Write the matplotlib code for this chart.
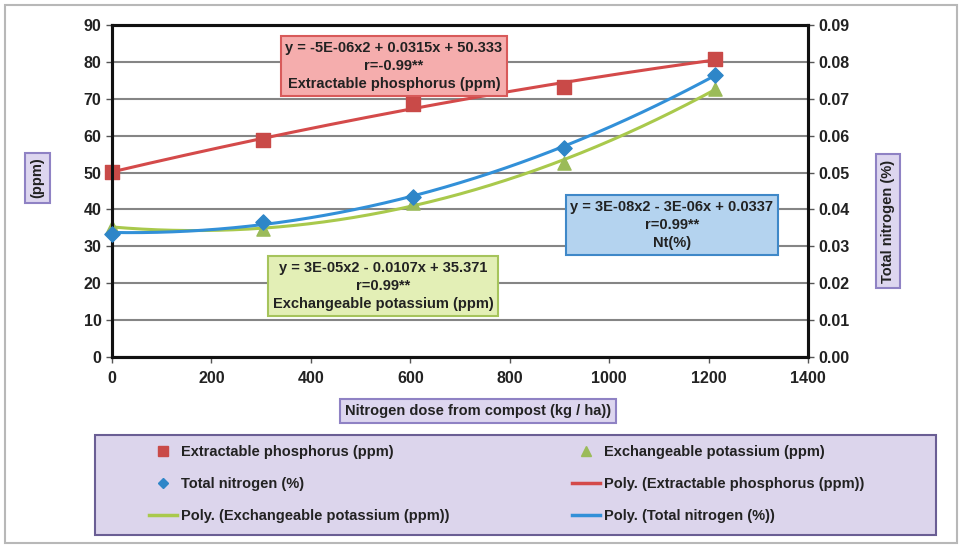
import numpy as np
import matplotlib
matplotlib.use("Agg")
import matplotlib.pyplot as plt
from matplotlib.patches import Rectangle
from matplotlib.lines import Line2D
from matplotlib.ticker import FormatStrFormatter

# ---------------- data ----------------
dose = [0, 303, 606, 909, 1212]
phosphorus = [50.2, 58.8, 68.6, 73.2, 80.9]
potassium = [35.2, 34.8, 41.7, 52.7, 72.7]
nitrogen = [0.0334, 0.0367, 0.0434, 0.0567, 0.0765]

left_ticks = [0, 10, 20, 30, 40, 50, 60, 70, 80, 90]
right_ticks = [0.00, 0.01, 0.02, 0.03, 0.04, 0.05, 0.06, 0.07, 0.08, 0.09]
x_ticks = [0, 200, 400, 600, 800, 1000, 1200, 1400]

eq_p = "y = -5E-06x2 + 0.0315x + 50.333\nr=-0.99**\nExtractable phosphorus (ppm)"
eq_k = "y = 3E-05x2 - 0.0107x + 35.371\nr=0.99**\nExchangeable potassium (ppm)"
eq_n = "y = 3E-08x2 - 3E-06x + 0.0337\nr=0.99**\nNt(%)"

lab_p = "Extractable phosphorus (ppm)"
lab_k = "Exchangeable potassium (ppm)"
lab_n = "Total nitrogen (%)"
lab_pp = "Poly. (Extractable phosphorus (ppm))"
lab_pk = "Poly. (Exchangeable potassium (ppm))"
lab_pn = "Poly. (Total nitrogen (%))"

# ---------------- style ----------------
plt.rcParams['font.family'] = ['Liberation Sans', 'DejaVu Sans']

c_red = '#c94a48'
c_red_line = '#d44a4a'
c_green = '#9bbb59'
c_green_line = '#a9c94c'
c_blue = '#2e86c8'
c_blue_line = '#3290d8'

W, H = 964, 547
fig = plt.figure(figsize=(W / 100, H / 100), dpi=100)

def fx(px):
    return px / W

def fy(py):
    return 1 - py / H

# outer border
fig.patches.append(Rectangle((fx(5), fy(543)), fx(957) - fx(5), fy(5) - fy(543),
                             transform=fig.transFigure, fill=False,
                             edgecolor='#b8b8b8', linewidth=1.5, zorder=0))

ax = fig.add_axes([fx(112), fy(357), fx(808) - fx(112), fy(25) - fy(357)])
ax2 = ax.twinx()

ax.set_xlim(0, 1400)
ax.set_ylim(0, 90)
ax2.set_ylim(0, 0.09)
ax.set_xticks(x_ticks)
ax.set_yticks(left_ticks)
ax2.set_yticks(right_ticks)
ax2.yaxis.set_major_formatter(FormatStrFormatter('%.2f'))

ax.grid(axis='y', color='#858585', linewidth=1.5)
ax.set_axisbelow(True)
for a in (ax, ax2):
    for s in a.spines.values():
        s.set_linewidth(2.2)
        s.set_color('#111111')
    a.tick_params(labelsize=11.5, width=1, length=4, color='#555555')
    for lbl in a.get_xticklabels() + a.get_yticklabels():
        lbl.set_fontweight('bold')
        lbl.set_color('#222222')
ax.tick_params(axis='x', pad=6)

# trend lines from quadratic fits
xs = np.linspace(dose[0], dose[-1], 200)
fp = np.polyfit(dose, phosphorus, 2)
fk = np.polyfit(dose, potassium, 2)
fn = np.polyfit(dose, nitrogen, 2)

ax.plot(xs, np.polyval(fk, xs), color=c_green_line, linewidth=2.2, zorder=3)
ax.plot(xs, np.polyval(fp, xs), color=c_red_line, linewidth=2.2, zorder=3)
ax2.plot(xs, np.polyval(fn, xs), color=c_blue_line, linewidth=2.2, zorder=3)

ax.scatter(dose, phosphorus, marker='s', s=90, color=c_red, zorder=4, clip_on=False)
ax.scatter(dose, potassium, marker='^', s=90, color=c_green, zorder=4, clip_on=False)
ax2.scatter(dose, nitrogen, marker='D', s=60, color=c_blue, zorder=4, clip_on=False)

# equation boxes
def eqbox(px, py, txt, fc, ec):
    fig.text(fx(px), fy(py), txt, ha='center', va='center', fontsize=10.5,
             fontweight='bold', color='#222222', linespacing=1.4, zorder=10,
             bbox=dict(boxstyle='square,pad=0.3', facecolor=fc, edgecolor=ec,
                       linewidth=1.5))

eqbox(394, 66, eq_p, '#f5adad', '#d85a5a')
eqbox(383, 286, eq_k, '#e3efb6', '#a6c45c')
eqbox(672, 225, eq_n, '#b4d3ef', '#3f88c8')

# axis title boxes
lab_box = dict(boxstyle='square,pad=0.35', facecolor='#ddd6ef', edgecolor='#8f82c4',
               linewidth=1.5)
fig.text(fx(37.5), fy(178), "(ppm)", rotation=90, ha='center', va='center',
         fontsize=10.5, fontweight='bold', color='#222222', bbox=lab_box)
fig.text(fx(888), fy(221), "Total nitrogen (%)", rotation=90, ha='center', va='center',
         fontsize=10.5, fontweight='bold', color='#222222', bbox=lab_box)
fig.text(fx(478), fy(411), "Nitrogen dose from compost (kg / ha))", ha='center',
         va='center', fontsize=10.5, fontweight='bold',
         color='#222222', bbox=lab_box)

# legend background
fig.patches.append(Rectangle((fx(95), fy(535)), fx(936) - fx(95), fy(435) - fy(535),
                             transform=fig.transFigure, facecolor='#dcd5ec',
                             edgecolor='#6a5e94', linewidth=1.5, zorder=1))

h_p = Line2D([], [], linestyle='none', marker='s', markersize=7, color=c_red)
h_k = Line2D([], [], linestyle='none', marker='^', markersize=7, color=c_green)
h_n = Line2D([], [], linestyle='none', marker='D', markersize=5, color=c_blue)
h_pp = Line2D([], [], color=c_red_line, linewidth=2.5)
h_pk = Line2D([], [], color=c_green_line, linewidth=2.5)
h_pn = Line2D([], [], color=c_blue_line, linewidth=2.5)

leg_font = dict(weight='bold', size=10.5)
common = dict(frameon=False, prop=leg_font, handlelength=1.9, handletextpad=0.3,
              labelspacing=1.25, borderpad=0, borderaxespad=0, loc='upper left',
              bbox_transform=fig.transFigure)
leg1 = fig.legend([h_p, h_n, h_pk], [lab_p, lab_n, lab_pk],
                  bbox_to_anchor=(fx(149), fy(445)), **common)
leg2 = fig.legend([h_k, h_pp, h_pn], [lab_k, lab_pp, lab_pn],
                  bbox_to_anchor=(fx(572), fy(445)), **common)
for lg in (leg1, leg2):
    lg.set_zorder(5)
    for t in lg.get_texts():
        t.set_color('#222222')

fig.savefig('out.png', dpi=100, facecolor='white')
